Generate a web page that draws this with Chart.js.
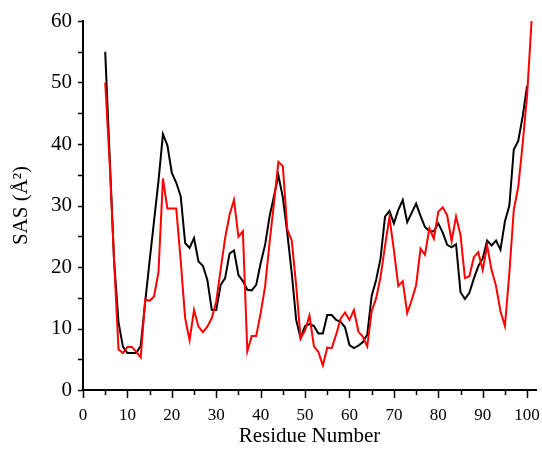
<!DOCTYPE html>
<html><head><meta charset="utf-8">
<script src="https://cdn.jsdelivr.net/npm/chart.js@4/dist/chart.umd.min.js"></script>
<style>html,body{margin:0;padding:0;background:#fff;}#wrap{width:542px;height:449px;}</style>
</head><body><div id="wrap"><canvas id="c" width="542" height="449"></canvas></div>
<script>
const residues = [5,6,7,8,9,10,11,12,13,14,15,16,17,18,19,20,21,22,23,24,25,26,27,28,29,30,31,32,33,34,35,36,37,38,39,40,41,42,43,44,45,46,47,48,49,50,51,52,53,54,55,56,57,58,59,60,61,62,63,64,65,66,67,68,69,70,71,72,73,74,75,76,77,78,79,80,81,82,83,84,85,86,87,88,89,90,91,92,93,94,95,96,97,98,99,100,101];
const blackSAS = [55,38,21,11,7,6,6,6,7.2,14.3,21,27.5,34,41.6,39.8,35.3,33.7,31.5,23.9,23.1,24.7,20.9,20.2,17.9,13,13,17.1,18.2,22.2,22.7,18.7,17.7,16.3,16.2,17.1,20.6,23.6,28.2,31.5,34.9,31.3,25.5,19,11.4,8.4,10.4,10.7,10.4,9.2,9.2,12.2,12.2,11.4,11.1,10.2,7.3,6.8,7.2,7.8,9.0,15.3,17.9,21.4,28.2,29.1,27.1,29.3,30.9,27.3,28.8,30.3,28.3,26.5,25.8,25.8,27.1,25.6,23.6,23.2,23.7,15.9,14.8,15.8,18.1,20.1,21.4,24.3,23.5,24.3,22.8,27.4,30,39.1,40.5,44.5,49.5];
const redSAS = [50,37,21,6.6,6,7,7,6.2,5.3,14.7,14.5,15.2,19.2,34.4,29.5,29.5,29.5,21,11.7,8.1,13,10.3,9.4,10.3,11.7,14.4,19.6,24.7,28.5,30.9,24.9,25.8,6.3,8.8,8.8,12.5,16.8,23.9,30.4,37.1,36.4,26.1,24.3,17,8.4,9.7,12.1,7.1,6.2,4.0,6.9,6.8,9,11.6,12.6,11.4,13.0,9.5,8.7,7.1,12.8,14.9,18.4,23.4,28.1,22.8,16.9,17.7,12.5,14.6,17,23,22,26.3,24.6,29,29.7,28.4,24.2,28.2,25.2,18.2,18.5,21.6,22.4,19.5,23.5,19.5,16.9,12.8,10.4,19,29.3,33,40,48,60];
const xTickLabels = [0,10,20,30,40,50,60,70,80,90,100];
const xTickMarks = [0,5,10,15,20,25,30,35,40,45,50,55,60,65,70,75,80,85,90,95,100];
const yTickLabels = [0,10,20,30,40,50,60];
const yTickMarks = [0,5,10,15,20,25,30,35,40,45,50,55,60];

const toPoints = (vals) => vals.map((v, i) => ({x: residues[i], y: v}));

const tickPlugin = {
  id: 'axisTicks',
  afterDraw(chart) {
    const {ctx} = chart;
    const xs = chart.scales.x, ys = chart.scales.y;
    ctx.save();
    ctx.strokeStyle = '#000';
    ctx.lineWidth = 1.5;
    xs.ticks.forEach(t => {
      const px = Math.round(xs.getPixelForValue(t.value)) + 0.5;
      const len = xTickLabels.includes(t.value) ? 8 : 5;
      ctx.beginPath(); ctx.moveTo(px, ys.bottom); ctx.lineTo(px, ys.bottom + len); ctx.stroke();
    });
    ys.ticks.forEach(t => {
      const py = Math.round(ys.getPixelForValue(t.value)) + 0.5;
      const len = 5;
      ctx.beginPath(); ctx.moveTo(xs.left, py); ctx.lineTo(xs.left - len, py); ctx.stroke();
    });
    ctx.restore();
  }
};

new Chart(document.getElementById('c'), {
  type: 'line',
  data: {
    datasets: [
      {data: toPoints(redSAS), borderColor: '#ff0000', borderWidth: 2, pointRadius: 0, tension: 0, fill: false},
      {data: toPoints(blackSAS), borderColor: '#000000', borderWidth: 2, pointRadius: 0, tension: 0, fill: false}
    ]
  },
  options: {
    responsive: false,
    animation: false,
    devicePixelRatio: 1,
    layout: {padding: {top: 21, right: 6, left: 0, bottom: 0}},
    plugins: {legend: {display: false}, tooltip: {enabled: false}},
    scales: {
      x: {
        type: 'linear', min: 0, max: 102,
        afterBuildTicks: s => { s.ticks = xTickMarks.map(v => ({value: v})); },
        afterFit: s => { s.height = 59; s.paddingLeft = 0; s.paddingRight = 0; },
        ticks: {autoSkip: false, maxRotation: 0, padding: 15, color: '#000',
          font: {family: 'Liberation Serif', size: 17},
          callback: v => xTickLabels.includes(v) ? String(v) : ''},
        grid: {display: true, drawOnChartArea: false, drawTicks: false},
        border: {display: true, color: '#000', width: 2},
        title: {display: true, text: 'Residue Number', color: '#000',
          font: {family: 'Liberation Serif', size: 21}, padding: {top: 0, bottom: 0}}
      },
      y: {
        type: 'linear', min: 0, max: 60,
        afterBuildTicks: s => { s.ticks = yTickMarks.map(v => ({value: v})); },
        afterFit: s => { s.width = 83; s.paddingTop = 0; s.paddingBottom = 0; },
        ticks: {autoSkip: false, padding: 11, color: '#000',
          font: {family: 'Liberation Serif', size: 21},
          callback: v => yTickLabels.includes(v) ? String(v) : ''},
        grid: {display: true, drawOnChartArea: false, drawTicks: false},
        border: {display: true, color: '#000', width: 2},
        title: {display: true, text: 'SAS (Å²)', color: '#000',
          font: {family: 'Liberation Serif', size: 21}, padding: {top: 9, bottom: 0}}
      }
    }
  },
  plugins: [tickPlugin]
});
</script></body></html>
